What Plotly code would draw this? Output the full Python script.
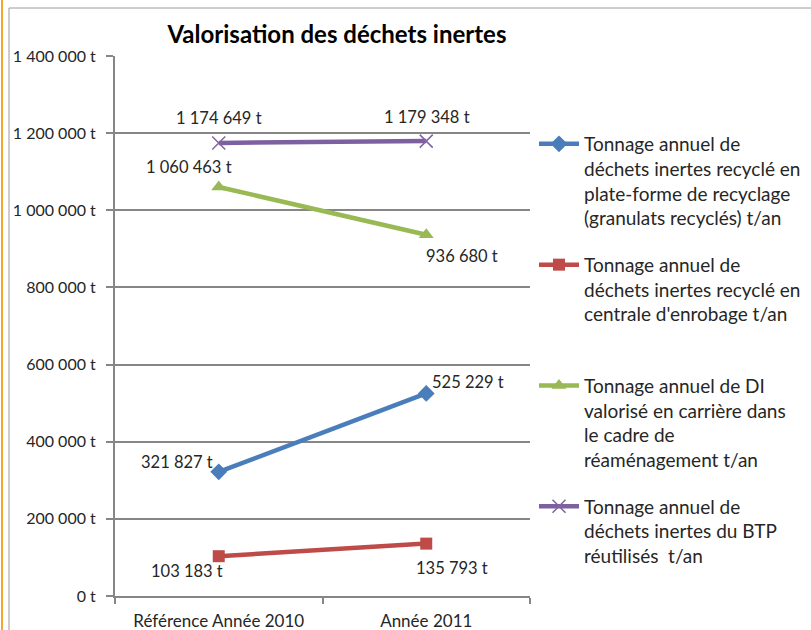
import plotly.graph_objects as go

categories = ["Référence Année 2010", "Année 2011"]
blue_vals = [321827, 525229]
red_vals = [103183, 135793]
green_vals = [1060463, 936680]
purple_vals = [1174649, 1179348]
blue_labels = ["321 827 t", "525 229 t"]
red_labels = ["103 183 t", "135 793 t"]
green_labels = ["1 060 463 t", "936 680 t"]
purple_labels = ["1 174 649 t", "1 179 348 t"]
tick_vals = [0, 200000, 400000, 600000, 800000, 1000000, 1200000, 1400000]
tick_text = ["0 t", "200 000 t", "400 000 t", "600 000 t", "800 000 t",
             "1 000 000 t", "1 200 000 t", "1 400 000 t"]
names = [
    "Tonnage annuel de<br>déchets inertes recyclé en<br>plate-forme de recyclage<br>(granulats recyclés) t/an",
    "Tonnage annuel de<br>déchets inertes recyclé en<br>centrale d'enrobage t/an<br>\u00a0",
    "Tonnage annuel de DI<br>valorisé en carrière dans<br>le cadre de<br>réaménagement t/an",
    "Tonnage annuel de<br>déchets inertes du BTP<br>réutilisés  t/an<br>\u00a0",
]

FONT = "Lato"
W, H = 811, 630
L, R, T, B = 115, 281, 56, 34
pw, ph = W - L - R, H - T - B

fig = go.Figure()
series = [
    (blue_vals, "#4a7ebb", dict(symbol="diamond", size=13, color="#4a7ebb")),
    (red_vals, "#be4b48", dict(symbol="square", size=12, color="#be4b48")),
    (green_vals, "#98b954", dict(symbol="triangle-up", size=13, color="#98b954")),
    (purple_vals, "#7d60a0", dict(symbol="x-thin-open", size=13, color="#8064a2",
                                  line=dict(width=1.5, color="#8064a2"))),
]
for i, (vals, col, mk) in enumerate(series):
    fig.add_trace(go.Scatter(x=categories, y=vals, mode="lines+markers",
                             name=names[i], legendgroup=f"g{i}",
                             line=dict(color=col, width=4.5), marker=mk))

label_sets = [
    (blue_vals, blue_labels, [(-42, 10), (42, 11)]),
    (red_vals, red_labels, [(-32, -15), (26, -24)]),
    (green_vals, green_labels, [(-30, 20), (36, -21)]),
    (purple_vals, purple_labels, [(0, 25), (1, 24)]),
]
for vals, labs, shifts in label_sets:
    for j in range(2):
        fig.add_annotation(x=categories[j], y=vals[j], text=labs[j], showarrow=False,
                           xshift=shifts[j][0], yshift=shifts[j][1],
                           font=dict(family=FONT, size=16.5, color="#262626"))

def px(x):
    return (x - L) / pw

def py(y):
    return (H - B - y) / ph

fig.add_shape(type="rect", xref="paper", yref="paper",
              x0=px(9), x1=px(W + 5), y0=py(H + 5), y1=py(8),
              line=dict(color="#9a9a9a", width=1), layer="below")
fig.add_shape(type="line", xref="paper", yref="paper",
              x0=px(2), x1=px(2), y0=py(H + 5), y1=py(-5),
              line=dict(color="#f0a830", width=2))

fig.update_layout(
    width=W, height=H,
    margin=dict(l=L, r=R, t=T, b=B, autoexpand=False),
    paper_bgcolor="white", plot_bgcolor="white",
    font=dict(family=FONT, size=17, color="#262626"),
    title=dict(text="<b>Valorisation des déchets inertes</b>", x=337 / W, xanchor="center",
               xref="container", y=1 - 35 / H, yanchor="middle", yref="container",
               font=dict(family=FONT, size=24, color="black")),
    showlegend=True,
    legend=dict(x=px(534), xanchor="left", y=py(125), yanchor="top",
                font=dict(family=FONT, size=19, color="#262626"),
                valign="top", tracegroupgap=19, itemwidth=40,
                bgcolor="rgba(0,0,0,0)"),
    xaxis=dict(type="category", range=[-0.5, 1.5], showgrid=False,
               showline=True, linecolor="#868686", linewidth=2,
               ticks="outside", tickson="boundaries", ticklen=6, tickcolor="#868686",
               tickwidth=2, tickfont=dict(family=FONT, size=17, color="#262626"),
               ticklabelstandoff=9, fixedrange=True, automargin=False),
    yaxis=dict(range=[0, 1400000], tickvals=tick_vals, ticktext=tick_text,
               showgrid=True, gridcolor="#868686", gridwidth=2,
               showline=True, linecolor="#868686", linewidth=2,
               ticks="outside", ticklen=7, tickcolor="#868686", tickwidth=2,
               tickfont=dict(family=FONT, size=16, color="#262626"),
               ticklabelstandoff=7,
               zeroline=False, fixedrange=True, automargin=False),
)

fig.write_html("out.html", config={"displayModeBar": False},
               post_script="document.body.style.margin='0';")
